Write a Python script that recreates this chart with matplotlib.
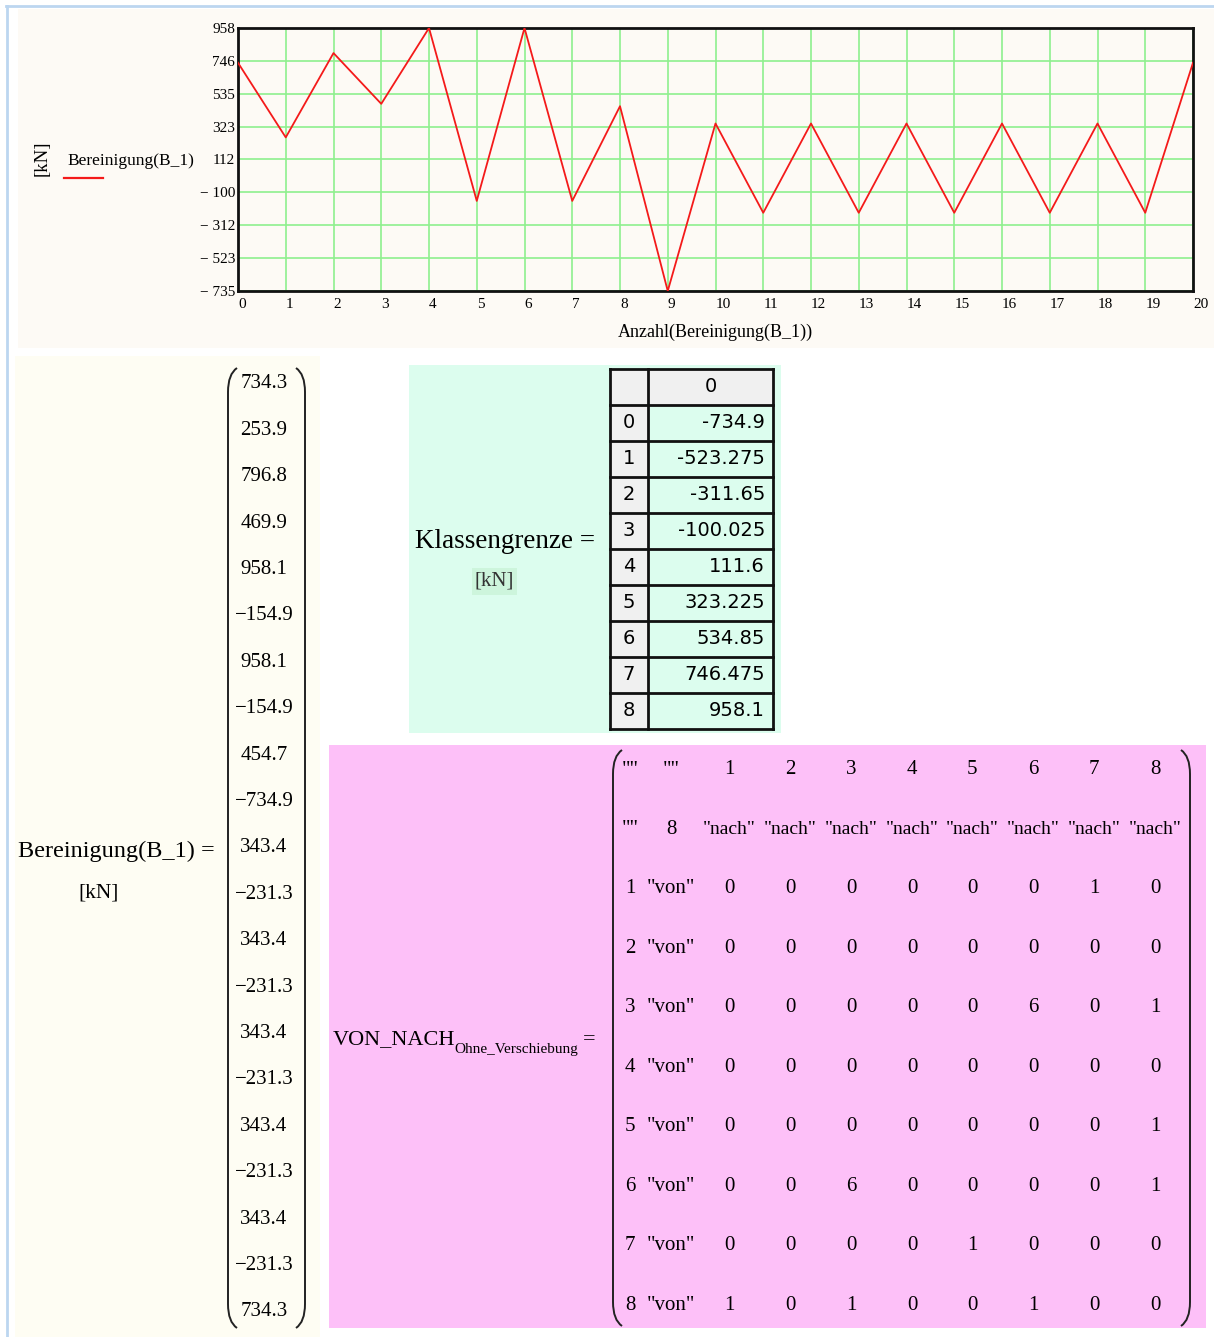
import matplotlib
matplotlib.use("Agg")
import matplotlib.pyplot as plt
from matplotlib.patches import Rectangle, PathPatch
from matplotlib.path import Path

# Werte aus dem Mathcad-Blatt
bereinigung = [734.3, 253.9, 796.8, 469.9, 958.1, -154.9, 958.1, -154.9, 454.7, -734.9,
               343.4, -231.3, 343.4, -231.3, 343.4, -231.3, 343.4, -231.3, 343.4, -231.3, 734.3]
klassengrenze = [-734.9, -523.275, -311.65, -100.025, 111.6, 323.225, 534.85, 746.475, 958.1]
klassen_nr = [1, 2, 3, 4, 5, 6, 7, 8]
anzahl_klassen = 8
von_nach = [
    [0, 0, 0, 0, 0, 0, 1, 0],
    [0, 0, 0, 0, 0, 0, 0, 0],
    [0, 0, 0, 0, 0, 6, 0, 1],
    [0, 0, 0, 0, 0, 0, 0, 0],
    [0, 0, 0, 0, 0, 0, 0, 1],
    [0, 0, 6, 0, 0, 0, 0, 1],
    [0, 0, 0, 0, 1, 0, 0, 0],
    [1, 0, 1, 0, 0, 1, 0, 0],
]

W, H = 1214, 1337
SERIF = "Liberation Serif"

fig = plt.figure(figsize=(W / 100, H / 100), dpi=100)
fig.patch.set_facecolor("white")

# Hintergrund-Achse in Pixelkoordinaten
bg = fig.add_axes([0, 0, 1, 1])
bg.set_xlim(0, W)
bg.set_ylim(H, 0)
bg.axis("off")


def minus(s):
    return s.replace("-", "\u2212")


def klammer(x, y0, y1, links=True, lw=1.4):
    d = 9 if links else -9
    verts = [(x + d, y0), (x, y0 + 6), (x, y0 + 24), (x, y1 - 24), (x, y1 - 6), (x + d, y1)]
    codes = [Path.MOVETO, Path.CURVE3, Path.CURVE3, Path.LINETO, Path.CURVE3, Path.CURVE3]
    bg.add_patch(PathPatch(Path(verts, codes), fill=False, lw=lw, color="#222222"))


# Rahmen und Hintergrundflächen
bg.plot([6, W], [6, 6], color="#bcd6f0", lw=2)
bg.plot([7, 7], [6, H], color="#bcd6f0", lw=2)
bg.add_patch(Rectangle((18, 9), W - 18, 339, color="#fdfaf5", lw=0))
bg.add_patch(Rectangle((15, 356), 305, H - 356, color="#fefdf3", lw=0))
bg.add_patch(Rectangle((409, 365), 372, 368, color="#dcfdee", lw=0))
bg.add_patch(Rectangle((329, 745), 877, 583, color="#fdc0f8", lw=0))

# ---- Diagramm oben ----
x0, x1, y0, y1 = 238, 1193, 28, 291
ax = fig.add_axes([x0 / W, 1 - y1 / H, (x1 - x0) / W, (y1 - y0) / H])
ax.set_facecolor("#fdfaf5")
n = list(range(len(bereinigung)))
ax.plot(n, bereinigung, color="#f41a1a", lw=1.3, zorder=3)
ax.set_xlim(0, len(bereinigung) - 1)
ax.set_ylim(klassengrenze[0], klassengrenze[-1])
ax.set_xticks(n)
ax.set_xticklabels([str(i) for i in n], fontfamily=SERIF, fontsize=11)
ax.set_yticks(klassengrenze)
ax.set_yticklabels([minus(str(round(v))).replace("\u2212", "\u2212 ") for v in klassengrenze],
                   fontfamily=SERIF, fontsize=11)
ax.tick_params(length=0, pad=2)
for lbl in ax.get_xticklabels():
    lbl.set_horizontalalignment("left")
ax.tick_params(axis="x", pad=5)
ax.grid(True, color="#8ef08e", lw=1.2)
for s in ax.spines.values():
    s.set_linewidth(2)
    s.set_color("#111111")
ax.set_xlabel("Anzahl(Bereinigung(B_1))", fontfamily=SERIF, fontsize=13, labelpad=9)

bg.text(42, 158, "[kN]", rotation=90, ha="center", va="center", fontfamily=SERIF, fontsize=13.5)
bg.text(67, 161, "Bereinigung(B_1)", ha="left", va="center", fontfamily=SERIF, fontsize=12.5)
bg.plot([64, 103], [178, 178], color="#f41a1a", lw=1.6)

# ---- Vektor links ----
bg.text(215, 851, "Bereinigung(B_1) =", ha="right", va="center", fontfamily=SERIF, fontsize=17.5)
bg.text(99, 893, "[kN]", ha="center", va="center", fontfamily=SERIF, fontsize=15.5)
klammer(228, 368, 1328, links=True)
klammer(305, 368, 1328, links=False)
dy = (1312 - 384) / (len(bereinigung) - 1)
for i, v in enumerate(bereinigung):
    bg.text(264, 384 + i * dy, minus(f"{v:.1f}"), ha="center", va="center",
            fontfamily=SERIF, fontsize=15)

# ---- Tabelle Klassengrenze ----
bg.text(415, 541, "Klassengrenze =", ha="left", va="center", fontfamily=SERIF, fontsize=19.5)
bg.add_patch(Rectangle((472, 568), 45, 27, color="#cdf5dc", lw=0))
bg.text(494, 581, "[kN]", ha="center", va="center", fontfamily=SERIF, fontsize=15, color="#333333")
tx0, tx1, tx2, ty0, rh = 610, 648, 773, 369, 36
bg.add_patch(Rectangle((tx0, ty0), tx2 - tx0, rh, facecolor="#f0f0f0", lw=0))
bg.add_patch(Rectangle((tx0, ty0 + rh), tx1 - tx0, rh * len(klassengrenze), facecolor="#f0f0f0", lw=0))
bg.text((tx1 + tx2) / 2, ty0 + rh / 2, "0", ha="center", va="center", fontfamily="DejaVu Sans", fontsize=14)
for i, v in enumerate(klassengrenze):
    yc = ty0 + rh * (i + 1.5)
    bg.text((tx0 + tx1) / 2, yc, str(i), ha="center", va="center", fontfamily="DejaVu Sans", fontsize=14)
    bg.text(tx2 - 8, yc, str(v), ha="right", va="center", fontfamily="DejaVu Sans", fontsize=14)
for i in range(len(klassengrenze) + 2):
    bg.plot([tx0, tx2], [ty0 + i * rh, ty0 + i * rh], color="#111111", lw=2)
for xx in (tx0, tx1, tx2):
    bg.plot([xx, xx], [ty0, ty0 + rh * (len(klassengrenze) + 1)], color="#111111", lw=2)

# ---- Matrix VON_NACH ----
haupt = bg.text(333, 1040, "VON_NACH", ha="left", va="center", fontfamily=SERIF, fontsize=16)
renderer = fig.canvas.get_renderer()
ende = haupt.get_window_extent(renderer).x1
sub = bg.text(ende - 1, 1050, "Ohne_Verschiebung", ha="left", va="center", fontfamily=SERIF, fontsize=11)
sub_ende = sub.get_window_extent(renderer).x1
bg.text(sub_ende + 5, 1040, "=", ha="left", va="center", fontfamily=SERIF, fontsize=16)
klammer(613, 750, 1326, links=True)
klammer(1190, 750, 1326, links=False)
col_x = [630, 671, 729, 790, 851, 912, 972, 1033, 1094, 1155]
row_y = [770 + i * (1305 - 770) / 9 for i in range(10)]
mfs = 15
kopf1 = ['""', '""'] + [str(k) for k in klassen_nr]
kopf2 = ['""', str(anzahl_klassen)] + ['"nach"'] * len(klassen_nr)
for j, t in enumerate(kopf1):
    bg.text(col_x[j], row_y[0], t, ha="center", va="center", fontfamily=SERIF, fontsize=mfs)
for j, t in enumerate(kopf2):
    bg.text(col_x[j], row_y[1], t, ha="center", va="center", fontfamily=SERIF,
            fontsize=mfs if j < 2 else 14)
for i, zeile in enumerate(von_nach):
    yy = row_y[i + 2]
    bg.text(col_x[0], yy, str(klassen_nr[i]), ha="center", va="center", fontfamily=SERIF, fontsize=mfs)
    bg.text(col_x[1], yy, '"von"', ha="center", va="center", fontfamily=SERIF, fontsize=mfs)
    for j, c in enumerate(zeile):
        bg.text(col_x[j + 2], yy, str(c), ha="center", va="center", fontfamily=SERIF, fontsize=mfs)

fig.savefig("out.png", dpi=100)
